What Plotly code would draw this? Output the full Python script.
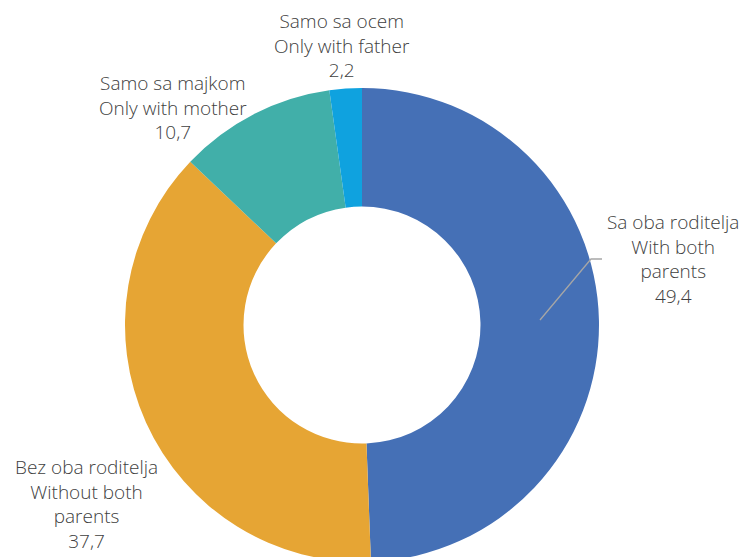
import plotly.graph_objects as go

labels_sr = ["Sa oba roditelja", "Bez oba roditelja", "Samo sa majkom", "Samo sa ocem"]
labels_en = ["With both<br>parents", "Without both<br>parents", "Only with mother", "Only with father"]
values = [49.4, 37.7, 10.7, 2.2]
colors = ["#4570B6", "#E6A534", "#41AFA9", "#0FA2DF"]

OFF = 8  # page body margin
W, H = 751 - OFF, 557

def px(x):
    return (x - OFF) / W

def py(y):
    return 1 - (y - OFF) / H

cx, cy, R = 362, 325, 237

fig = go.Figure(go.Pie(
    labels=labels_sr,
    values=values,
    hole=0.5,
    sort=False,
    direction="clockwise",
    rotation=0,
    textinfo="none",
    hoverinfo="skip",
    marker=dict(colors=colors, line=dict(width=0)),
    domain=dict(x=[px(cx - R), px(cx + R)], y=[max(0, py(cy + R)), py(cy - R)]),
    showlegend=False,
))

def fmt(v):
    return f"{v:.1f}".replace(".", ",")

label_pos = [(673, 259), (86, 504), (173, 107), (342, 46)]
font = dict(family="Open Sans, Noto Sans, sans-serif", size=19.0, color="#404040", weight=300)
for i, (lx, ly) in enumerate(label_pos):
    fig.add_annotation(
        x=px(lx), y=py(ly), xref="paper", yref="paper",
        text=f"{labels_sr[i]}<br>{labels_en[i]}<br>{fmt(values[i])}",
        showarrow=False, font=font, align="center",
        xanchor="center", yanchor="middle",
    )

# leader line for first slice
fig.add_shape(type="path", xref="paper", yref="paper",
              path=f"M {px(540)} {py(320)} L {px(591)} {py(259)} L {px(602)} {py(259)}",
              line=dict(color="#A6A6A6", width=1.3))

fig.update_layout(
    width=W, height=H,
    margin=dict(l=0, r=0, t=0, b=0),
    paper_bgcolor="white", plot_bgcolor="white",
)
fig.write_html("out.html")
